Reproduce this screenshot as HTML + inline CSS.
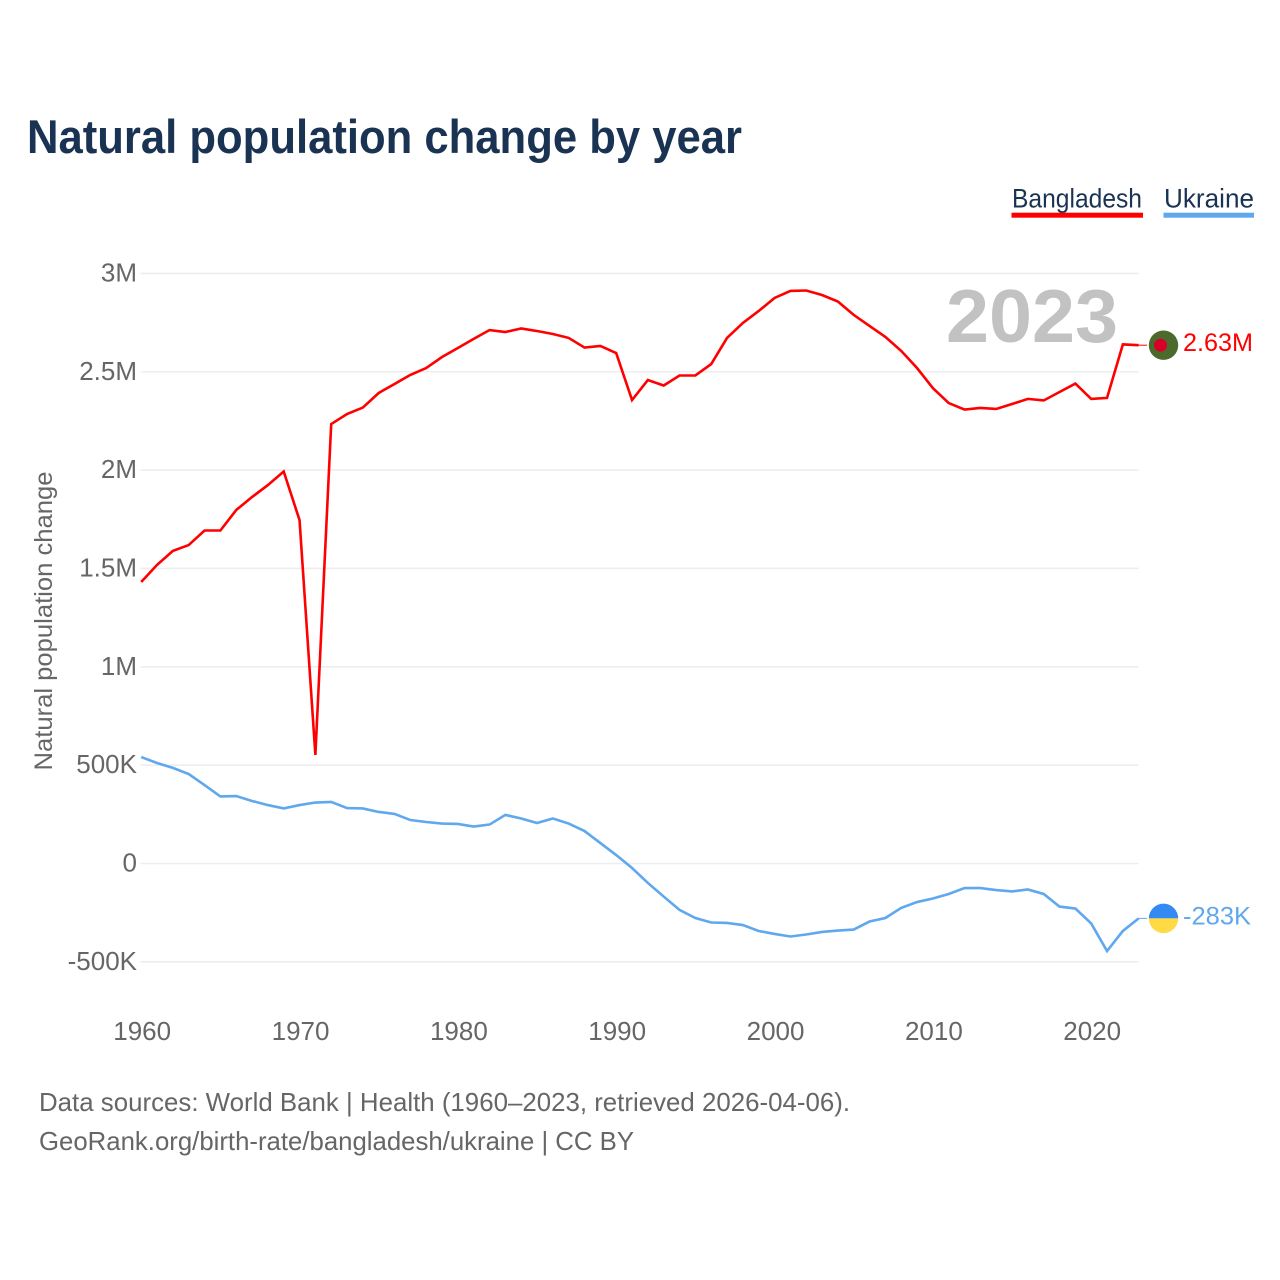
<!DOCTYPE html>
<html lang="en">
<head>
<meta charset="utf-8">
<title>Natural population change by year</title>
<style>
html,body{margin:0;padding:0;background:#fff;width:1280px;height:1280px;overflow:hidden}
svg{display:block;font-family:"Liberation Sans",sans-serif}
.tick{font-size:26px;fill:#666}
.foot{font-size:26px;fill:#666}
</style>
</head>
<body>
<svg id="chart" width="1280" height="1280" viewBox="0 0 1280 1280" xmlns="http://www.w3.org/2000/svg">
  <text x="27" y="153" font-size="47" font-weight="700" fill="#1a3353" textLength="715" lengthAdjust="spacingAndGlyphs">Natural population change by year</text>

  <g>
    <g>
      <text x="1012" y="207.5" font-size="27" fill="#1a3353" textLength="130" lengthAdjust="spacingAndGlyphs">Bangladesh</text>
      <rect x="1011.5" y="212.7" width="131.5" height="5" fill="#ff0000"/>
    </g>
    <g>
      <text x="1164" y="207.5" font-size="27" fill="#1a3353" textLength="90" lengthAdjust="spacingAndGlyphs">Ukraine</text>
      <rect x="1163.5" y="212.7" width="90.5" height="5" fill="#5fa8ee"/>
    </g>
  </g>

  <g id="grid"></g>
  <text x="946" y="342" font-size="75" font-weight="700" fill="#c2c2c2" textLength="172" lengthAdjust="spacingAndGlyphs">2023</text>
  <g id="y-axis"></g>
  <g id="x-axis"></g>
  <text transform="translate(52,621) rotate(-90)" text-anchor="middle" font-size="25" fill="#666" textLength="299" lengthAdjust="spacingAndGlyphs">Natural population change</text>
  <g id="series"></g>

  <g>
    <text class="foot" x="39" y="1111" textLength="811" lengthAdjust="spacingAndGlyphs">Data sources: World Bank | Health (1960–2023, retrieved 2026-04-06).</text>
    <text class="foot" x="39" y="1150" textLength="595" lengthAdjust="spacingAndGlyphs">GeoRank.org/birth-rate/bangladesh/ukraine | CC BY</text>
  </g>
</svg>
<script>
const startYear = 1960;
const yTickValues = [3000, 2500, 2000, 1500, 1000, 500, 0, -500];
const yTickLabels = ['3M', '2.5M', '2M', '1.5M', '1M', '500K', '0', '-500K'];
const xTickYears = [1960, 1970, 1980, 1990, 2000, 2010, 2020];
const bangladeshValues = [1431,1518,1589,1619,1693,1693,1797,1863,1924,1993,1746,552,2234,2285,2318,2392,2438,2484,2519,2575,2621,2667,2712,2702,2720,2707,2692,2672,2623,2631,2595,2356,2458,2430,2481,2481,2539,2672,2748,2809,2875,2911,2913,2890,2857,2789,2733,2677,2606,2519,2417,2341,2308,2316,2311,2336,2362,2354,2397,2440,2362,2367,2639,2635];
const ukraineValues = [541,511,486,455,399,341,343,318,297,280,297,310,313,282,280,262,252,221,211,203,201,188,198,247,229,206,229,203,165,104,43,-23,-99,-168,-236,-277,-300,-302,-313,-343,-358,-371,-361,-348,-341,-336,-295,-277,-226,-196,-178,-155,-125,-125,-135,-142,-132,-155,-219,-229,-305,-445,-343,-279];
const bangladeshLabel = '2.63M';
const ukraineLabel = '-283K';

const NS = 'http://www.w3.org/2000/svg';
function xScale(year) { return 141.2 + (year - 1960) * (950 / 60); }
function yScale(v) { return 863.5 - v * (98.35 / 500); }
function make(tag, attrs, parent) {
  const el = document.createElementNS(NS, tag);
  for (const k in attrs) el.setAttribute(k, attrs[k]);
  parent.appendChild(el);
  return el;
}
const gridG = document.getElementById('grid');
const yG = document.getElementById('y-axis');
const xG = document.getElementById('x-axis');
const seriesG = document.getElementById('series');
const lastX = xScale(startYear + bangladeshValues.length - 1);

yTickValues.forEach(function (v, i) {
  const line = make('line', {x1: 140.5, x2: lastX, y1: yScale(v), y2: yScale(v), stroke: '#eeeeee', 'stroke-width': 1.6}, gridG);
  
  
  const t = make('text', {x: 137, y: yScale(v) + 8, 'text-anchor': 'end', class: 'tick'}, yG);
  t.textContent = yTickLabels[i];
  
  
});

xTickYears.forEach(function (yr) {
  const t = make('text', {x: xScale(yr) + 1, y: 1040, 'text-anchor': 'middle', class: 'tick'}, xG);
  t.textContent = String(yr);
  
  
});

function pathFor(values) {
  return values.map(function (v, i) {
    return (i ? 'L' : 'M') + xScale(startYear + i).toFixed(2) + ' ' + yScale(v).toFixed(2);
  }).join(' ');
}

const bdLine = make('path', {d: pathFor(bangladeshValues), fill: 'none', stroke: '#ff0000', 'stroke-width': 2.6, 'stroke-linejoin': 'miter'}, seriesG);


const uaLine = make('path', {d: pathFor(ukraineValues), fill: 'none', stroke: '#5fa8ee', 'stroke-width': 2.6, 'stroke-linejoin': 'miter'}, seriesG);



const flagX = 1163.5;
const bdY = yScale(bangladeshValues[bangladeshValues.length - 1]);
const uaY = yScale(ukraineValues[ukraineValues.length - 1]);

const bdLead = make('line', {x1: lastX, x2: 1147, y1: bdY, y2: bdY, stroke: '#ff0000', 'stroke-width': 1}, seriesG);


const uaLead = make('line', {x1: lastX, x2: 1147, y1: uaY, y2: uaY, stroke: '#5fa8ee', 'stroke-width': 1}, seriesG);



const bdFlag = make('g', {}, seriesG);


make('circle', {cx: flagX, cy: bdY, r: 14.7, fill: '#4b6a2c'}, bdFlag);
make('circle', {cx: flagX - 3, cy: bdY, r: 6.5, fill: '#d80027'}, bdFlag);

const uaFlag = make('g', {}, seriesG);


make('path', {d: 'M' + (flagX - 14.7) + ' ' + uaY + ' a14.7 14.7 0 0 1 29.4 0 z', fill: '#338af3'}, uaFlag);
make('path', {d: 'M' + (flagX - 14.7) + ' ' + uaY + ' a14.7 14.7 0 0 0 29.4 0 z', fill: '#ffda44'}, uaFlag);

const bdText = make('text', {x: 1183, y: bdY + 6, 'font-size': 25, fill: '#ff0000', textLength: 70, lengthAdjust: 'spacingAndGlyphs'}, seriesG);
bdText.textContent = bangladeshLabel;


const uaText = make('text', {x: 1183, y: uaY + 6, 'font-size': 25, fill: '#5fa8ee', textLength: 68, lengthAdjust: 'spacingAndGlyphs'}, seriesG);
uaText.textContent = ukraineLabel;


</script>
</body>
</html>
